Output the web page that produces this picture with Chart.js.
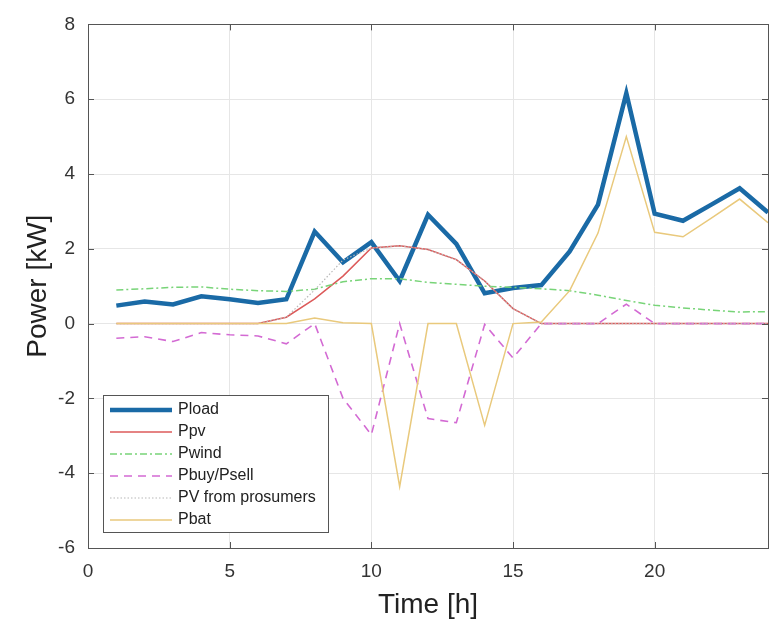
<!DOCTYPE html>
<html>
<head>
<meta charset="utf-8">
<script src="https://cdn.jsdelivr.net/npm/chart.js@4"></script>
<style>
  body { margin: 0; background: #fff; }
  canvas { display: block; }
</style>
</head>
<body>
<canvas id="grafica" width="777" height="624"></canvas>
<script>
const horas = [1,2,3,4,5,6,7,8,9,10,11,12,13,14,15,16,17,18,19,20,21,22,23,24];
const pload = [0.48,0.59,0.51,0.73,0.65,0.55,0.65,2.46,1.64,2.18,1.14,2.91,2.13,0.81,0.95,1.03,1.93,3.18,6.16,2.94,2.75,3.18,3.62,2.97];
const ppv = [0,0,0,0,0,0,0.17,0.66,1.27,2.02,2.08,1.98,1.71,1.14,0.40,0,0,0,0,0,0,0,0,0];
const pwind = [0.90,0.93,0.97,0.98,0.92,0.88,0.86,0.92,1.12,1.20,1.20,1.10,1.05,1.00,0.97,0.93,0.88,0.76,0.62,0.49,0.42,0.36,0.31,0.32];
const pbuy = [-0.39,-0.35,-0.48,-0.24,-0.30,-0.33,-0.54,0,-2.0,-2.97,0,-2.54,-2.65,-0.02,-0.92,0,0,0,0.52,0,0,0,0,0];
const pvPros = [0,0,0,0,0,0,0.17,0.90,1.70,2.02,2.08,1.98,1.71,1.14,0.40,0,0,0,0,0,0,0,0,0];
const pbat = [0,0,0,0,0,0,0,0.15,0.02,0,-4.36,0,0,-2.72,0,0.04,0.88,2.42,5.0,2.44,2.32,2.82,3.33,2.70];
const ticksX = [0,5,10,15,20];
const ticksY = [-6,-4,-2,0,2,4,6,8];

const fuente = "'Liberation Sans', Arial, Helvetica, sans-serif";

function puntos(valores) {
    return horas.map((h, i) => ({ x: h, y: valores[i] }));
}

const series = [
    { label: 'Pload', data: pload, color: '#1a6aa6', width: 4.5, dash: [] },
    { label: 'Ppv', data: ppv, color: '#dc5a5a', width: 1.5, dash: [] },
    { label: 'Pwind', data: pwind, color: '#78d478', width: 1.5, dash: [7, 3, 2, 3] },
    { label: 'Pbuy/Psell', data: pbuy, color: '#d36ad3', width: 1.6, dash: [8, 6] },
    { label: 'PV from prosumers', data: pvPros, color: '#b8b8b8', width: 1.2, dash: [1.5, 2] },
    { label: 'Pbat', data: pbat, color: '#e9c97c', width: 1.5, dash: [] }
];

// marco, marcas interiores y leyenda
const marcoPlugin = {
    id: 'marco',
    afterDatasetsDraw(chart) {
        const ctx = chart.ctx;
        const a = chart.chartArea;
        const sx = chart.scales.x, sy = chart.scales.y;
        ctx.save();
        ctx.strokeStyle = '#555';
        ctx.lineWidth = 1;
        ctx.setLineDash([]);
        ctx.beginPath();
        ticksX.forEach(v => {
            const px = Math.round(sx.getPixelForValue(v)) + 0.5;
            ctx.moveTo(px, a.bottom); ctx.lineTo(px, a.bottom - 6);
            ctx.moveTo(px, a.top); ctx.lineTo(px, a.top + 6);
        });
        ticksY.forEach(v => {
            const py = Math.round(sy.getPixelForValue(v)) + 0.5;
            ctx.moveTo(a.left, py); ctx.lineTo(a.left + 6, py);
            ctx.moveTo(a.right, py); ctx.lineTo(a.right - 6, py);
        });
        ctx.stroke();
        ctx.strokeRect(Math.round(a.left) + 0.5, Math.round(a.top) + 0.5,
            Math.round(a.right - a.left), Math.round(a.bottom - a.top));

        // leyenda
        const lx = 103, ly = 395, lw = 225, lh = 137;
        ctx.fillStyle = '#fff';
        ctx.fillRect(lx, ly, lw, lh);
        ctx.strokeStyle = '#555';
        ctx.strokeRect(lx + 0.5, ly + 0.5, lw, lh);
        ctx.font = '16px ' + fuente;
        ctx.textBaseline = 'middle';
        series.forEach((s, i) => {
            const y = ly + 15 + i * 22;
            ctx.strokeStyle = s.color;
            ctx.lineWidth = s.width;
            ctx.setLineDash(s.dash);
            ctx.beginPath();
            ctx.moveTo(lx + 7, y);
            ctx.lineTo(lx + 69, y);
            ctx.stroke();
            ctx.fillStyle = '#222';
            ctx.fillText(s.label, lx + 75, y);
        });
        ctx.restore();
    }
};

const ctx = document.getElementById('grafica').getContext('2d');
new Chart(ctx, {
    type: 'line',
    data: {
        datasets: series.map((s, i) => ({
            label: s.label,
            data: puntos(s.data),
            borderColor: s.color,
            backgroundColor: s.color,
            borderWidth: s.width,
            borderDash: s.dash,
            pointRadius: 0,
            tension: 0,
            fill: false,
            order: series.length - i
        }))
    },
    options: {
        responsive: false,
        animation: false,
        layout: { padding: { left: 0, right: 9, top: 16, bottom: 0 } },
        plugins: {
            legend: { display: false },
            tooltip: { enabled: false }
        },
        scales: {
            x: {
                type: 'linear',
                min: 0,
                max: 24,
                afterBuildTicks: s => { s.ticks = ticksX.map(v => ({ value: v })); },
                afterFit: s => { s.height = 76; },
                grid: { color: '#e6e6e6', drawTicks: false },
                border: { display: false },
                ticks: { padding: 12, color: '#333', font: { family: fuente, size: 19 } },
                title: {
                    display: true,
                    text: 'Time [h]',
                    color: '#222',
                    font: { family: fuente, size: 28 },
                    padding: { top: 0, bottom: 2 }
                }
            },
            y: {
                type: 'linear',
                min: -6,
                max: 8,
                afterBuildTicks: s => { s.ticks = ticksY.map(v => ({ value: v })); },
                afterFit: s => { s.width = 88; },
                grid: { color: '#e6e6e6', drawTicks: false },
                border: { display: false },
                ticks: { padding: 13, color: '#333', font: { family: fuente, size: 19 } },
                title: {
                    display: true,
                    text: 'Power [kW]',
                    color: '#222',
                    font: { family: fuente, size: 28 },
                    padding: { top: 21, bottom: 0 }
                }
            }
        }
    },
    plugins: [marcoPlugin]
});
</script>
</body>
</html>
